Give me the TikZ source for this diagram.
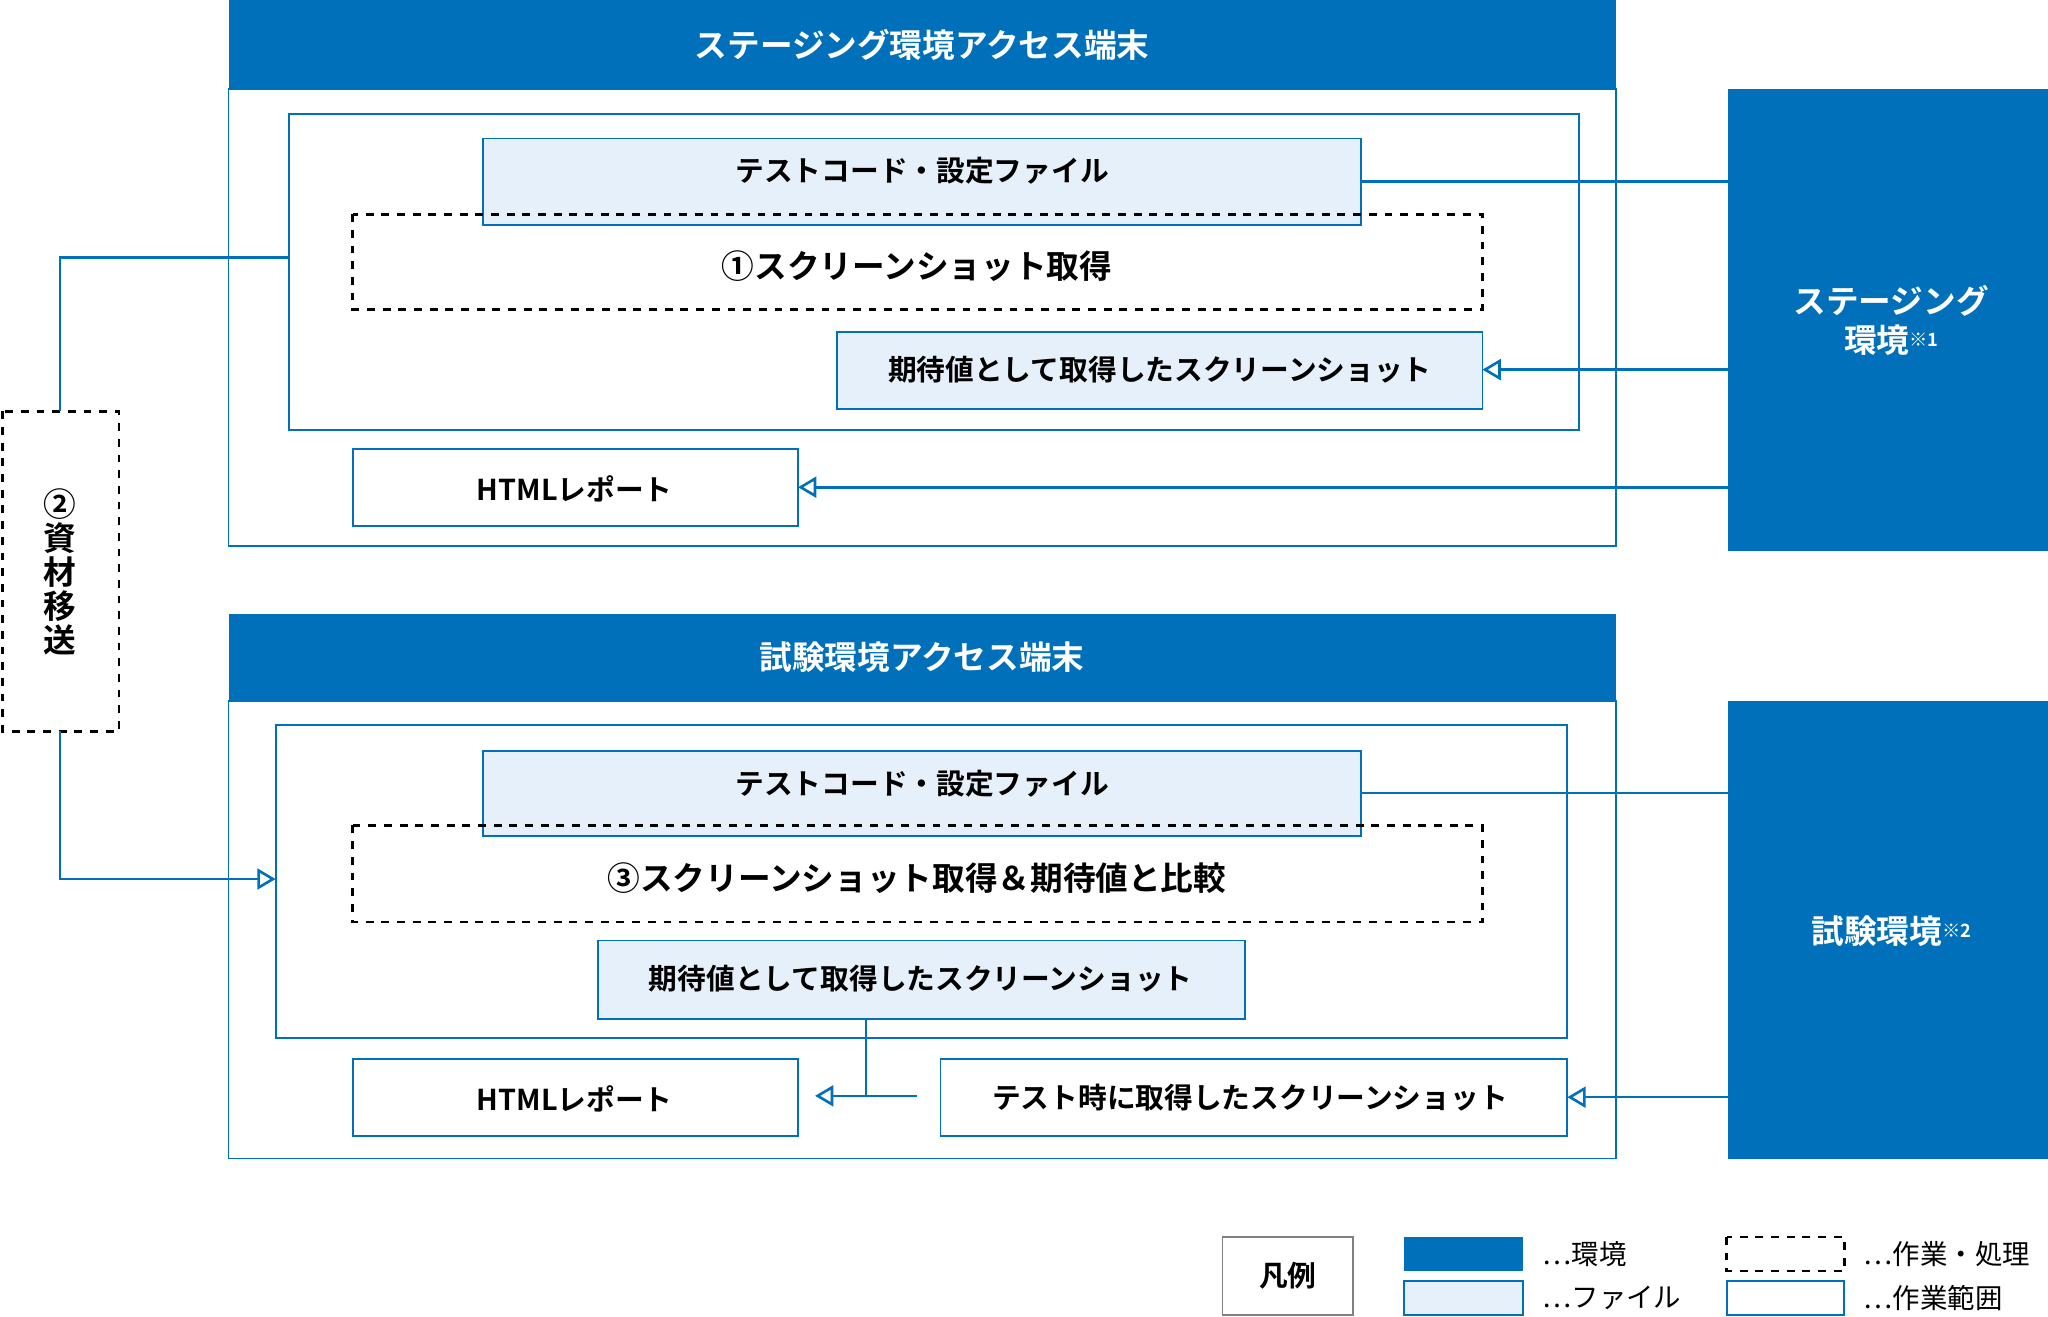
\documentclass[tikz,border=0pt]{standalone}
\usepackage{fontspec}
\setmainfont{Noto Sans CJK JP}[BoldFont={Noto Sans CJK JP Bold}]
\usetikzlibrary{arrows.meta}
\definecolor{mblue}{HTML}{0070BA}
\definecolor{lblue}{HTML}{E6F0FA}
\begin{document}
\begin{tikzpicture}[x=0.5pt,y=-0.5pt,
 bx/.style={draw=mblue,line width=0.7pt},
 filebox/.style={draw=mblue,fill=lblue,line width=0.7pt},
 dbox/.style={draw=black,dashed,line width=1pt},
 con/.style={draw=mblue,line width=1pt},
 arr/.style={con,-{Triangle[open,length=7pt,width=8pt,line width=1pt]}},
 lbl/.style={font=\bfseries\fontsize{11}{13}\selectfont},
 wl/.style={font=\bfseries\fontsize{12.5}{15}\selectfont,text=white}]
\useasboundingbox (0,0) rectangle (1568,1008);
% top
\fill[mblue] (175,0) rectangle (1237,68);
\node[wl] (h1) at (706,34) {ステージング環境アクセス端末};
\draw[bx] (175,68) rectangle (1237,418);
\draw[bx] (221,87) rectangle (1209,329);
\draw[filebox] (370,106) rectangle (1042,172);
\node[lbl] (f1) at (706,131) {テストコード・設定ファイル};
\draw[dbox] (270,164) rectangle (1135,237);
\node[lbl,font=\bfseries\fontsize{12.5}{15}\selectfont] (s1) at (702,204) {①スクリーンショット取得};
\draw[filebox] (641,254) rectangle (1135,313);
\node[lbl] (e1) at (888,283) {期待値として取得したスクリーンショット};
\draw[bx] (270,344) rectangle (611,403);
\node[lbl] (r1) at (440,374) {HTMLレポート};
\fill[mblue] (1323,68) rectangle (1568,422);
\node[wl,align=center] (env1) at (1448,245) {ステージング\\環境{\fontsize{7}{8}\selectfont\raisebox{0.6ex}{※1}}};
\draw[con] (1042,139) -- (1338,139) -- (1338,373);
\draw[arr] (1338,283) -- (1135,283);
\draw[arr] (1338,373) -- (611,373);
\draw[con] (1323,283) -- (1338,283);
\draw[con] (1323,373) -- (1338,373);
% left
\draw[dbox] (2,315) rectangle (91,560);
\node[lbl,font=\bfseries\fontsize{12.5}{15}\selectfont,align=center] (mv) at (46,438) {②\\[-2pt]資\\[-2pt]材\\[-2pt]移\\[-2pt]送};
\draw[con] (221,197) -- (46,197) -- (46,315);
\draw[arr] (46,560) -- (46,673) -- (211,673);
% bottom
\fill[mblue] (175,470) rectangle (1237,537);
\node[wl] (h2) at (706,503) {試験環境アクセス端末};
\draw[bx] (175,537) rectangle (1237,887);
\draw[bx] (211,555) rectangle (1200,795);
\draw[filebox] (370,575) rectangle (1042,640);
\node[lbl] (f2) at (706,600) {テストコード・設定ファイル};
\draw[dbox] (270,632) rectangle (1135,706);
\node[lbl,font=\bfseries\fontsize{12.5}{15}\selectfont] (s3) at (702,672) {③スクリーンショット取得＆期待値と比較};
\draw[filebox] (458,720) rectangle (953,780);
\node[lbl] (e2) at (705,749) {期待値として取得したスクリーンショット};
\draw[bx] (270,811) rectangle (611,870);
\node[lbl] (r2) at (440,841) {HTMLレポート};
\draw[bx] (720,811) rectangle (1200,870);
\node[lbl] (t2) at (957,840) {テスト時に取得したスクリーンショット};
\fill[mblue] (1323,537) rectangle (1568,887);
\node[wl] (env2) at (1448,713) {試験環境{\fontsize{7}{8}\selectfont\raisebox{0.6ex}{※2}}};
\draw[con] (1042,607) -- (1338,607) -- (1338,840);
\draw[arr] (1323,840) -- (1200,840);
\draw[con] (663,780) -- (663,839);
\draw[arr] (702,839) -- (624,839);
% legend
\draw[gray,line width=0.7pt,fill=white] (936,947) rectangle (1036,1007);
\node[lbl] (lg) at (986,977) {凡例};
\fill[mblue] (1075,947) rectangle (1166,973);
\node[anchor=west,font=\fontsize{10.5}{12}\selectfont] (l1) at (1174,960) {…環境};
\draw[filebox] (1075,981) rectangle (1166,1007);
\node[anchor=west,font=\fontsize{10.5}{12}\selectfont] (l2) at (1174,994) {…ファイル};
\draw[dbox] (1322,947) rectangle (1412,973);
\node[anchor=west,font=\fontsize{10.5}{12}\selectfont] (l3) at (1420,960) {…作業・処理};
\draw[bx] (1322,981) rectangle (1412,1007);
\node[anchor=west,font=\fontsize{10.5}{12}\selectfont] (l4) at (1420,994) {…作業範囲};
\end{tikzpicture}
\end{document}
